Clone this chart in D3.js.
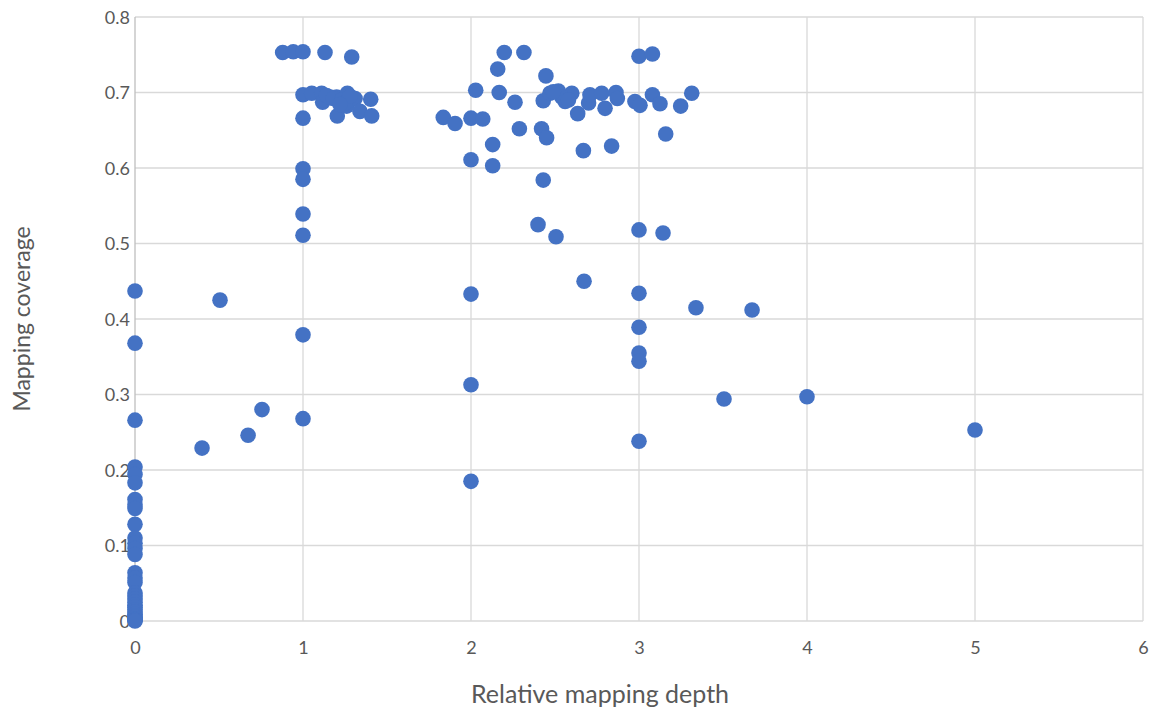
<!DOCTYPE html>
<html>
<head>
<meta charset="utf-8">
<script src="https://cdn.jsdelivr.net/npm/d3@7/dist/d3.min.js"></script>
<style>
  html, body { margin: 0; padding: 0; background: #fff; }
  svg { display: block; }
  text { font-family: Lato, "Open Sans", sans-serif; fill: #595959; }
</style>
</head>
<body>
<svg id="chart" width="1153" height="710"></svg>
<script>
// Relative mapping depth (x) and mapping coverage (y) for each sample
const depth = [
  // depth 0
  0, 0, 0, 0, 0, 0, 0, 0, 0, 0, 0, 0, 0, 0, 0, 0, 0, 0, 0, 0,
  0, 0, 0, 0, 0, 0, 0, 0, 0, 0, 0, 0,
  // low-depth samples
  0.506, 0.399, 0.673, 0.756,
  // around depth 1
  0.879, 0.942, 1.0, 1.131, 1.29,
  1.0, 1.052, 1.111, 1.117, 1.161, 1.2, 1.204, 1.264, 1.26, 1.31, 1.339, 1.403, 1.409,
  1.14, 1.18, 1.23, 1.25, 1.28, 1.22,
  1.0, 1.0, 1.0, 1.0, 1.0, 1.0, 1.0,
  // around depth 2
  1.835, 1.905, 2.0, 2.07, 2.028, 2.0, 2.129, 2.129, 2.159, 2.198, 2.315, 2.168,
  2.262, 2.288, 2.446, 2.43, 2.42, 2.45, 2.43, 2.47, 2.52, 2.56, 2.6, 2.635, 2.669,
  2.70, 2.708, 2.778, 2.798, 2.837, 2.863, 2.871, 2.54, 2.58, 2.49,
  2.399, 2.506, 2.673, 2.0, 2.0, 2.0,
  // around depth 3
  2.976, 3.006, 3.0, 3.08, 3.08, 3.125, 3.159, 3.248, 3.314,
  3.0, 3.143, 3.0, 3.0, 3.0, 3.0, 3.0,
  // higher depth
  3.339, 3.673, 3.506, 4.0, 5.0
];

const coverage = [
  // depth 0
  0.437, 0.368, 0.266, 0.204, 0.194, 0.183, 0.161, 0.154, 0.149, 0.128,
  0.110, 0.103, 0.096, 0.088, 0.064, 0.057, 0.051, 0.037, 0.033, 0.029,
  0.025, 0.021, 0.018, 0.015, 0.012, 0.009, 0.007, 0.005, 0.003, 0.002,
  0.001, 0.0,
  // low-depth samples
  0.425, 0.229, 0.246, 0.280,
  // around depth 1
  0.753, 0.754, 0.754, 0.753, 0.747,
  0.697, 0.699, 0.699, 0.687, 0.694, 0.694, 0.669, 0.699, 0.682, 0.692, 0.675, 0.691, 0.669,
  0.696, 0.692, 0.690, 0.686, 0.695, 0.684,
  0.666, 0.599, 0.585, 0.539, 0.511, 0.379, 0.268,
  // around depth 2
  0.667, 0.659, 0.666, 0.665, 0.703, 0.611, 0.631, 0.603, 0.731, 0.753, 0.753, 0.700,
  0.687, 0.652, 0.722, 0.689, 0.652, 0.640, 0.584, 0.699, 0.702, 0.688, 0.699, 0.672, 0.623,
  0.686, 0.697, 0.699, 0.679, 0.629, 0.700, 0.692, 0.694, 0.690, 0.701,
  0.525, 0.509, 0.450, 0.433, 0.313, 0.185,
  // around depth 3
  0.688, 0.683, 0.748, 0.751, 0.697, 0.685, 0.645, 0.682, 0.699,
  0.518, 0.514, 0.434, 0.389, 0.355, 0.344, 0.238,
  // higher depth
  0.415, 0.412, 0.294, 0.297, 0.253
];

const xTicks = [0, 1, 2, 3, 4, 5, 6];
const yTicks = [0, 0.1, 0.2, 0.3, 0.4, 0.5, 0.6, 0.7, 0.8];
const xTitle = "Relative mapping depth";
const yTitle = "Mapping coverage";

const svg = d3.select("#chart");
const margin = { left: 135, right: 10, top: 17, bottom: 89 };
const W = 1153, H = 710;

const x = d3.scaleLinear().domain([0, 6]).range([margin.left, W - margin.right]);
const y = d3.scaleLinear().domain([0, 0.8]).range([H - margin.bottom, margin.top]);

// gridlines
svg.append("g").selectAll("line").data(yTicks).join("line")
  .attr("x1", x(0)).attr("x2", x(6))
  .attr("y1", d => y(d)).attr("y2", d => y(d))
  .attr("stroke", "#d9d9d9").attr("stroke-width", 1.3);
svg.append("g").selectAll("line").data(xTicks).join("line")
  .attr("y1", y(0)).attr("y2", y(0.8))
  .attr("x1", d => x(d)).attr("x2", d => x(d))
  .attr("stroke", d => d === 0 ? "#bfbfbf" : "#d9d9d9").attr("stroke-width", 1.3);

// axes (labels only, lines come from the grid)
const yAxis = d3.axisLeft(y).tickValues(yTicks).tickSize(0).tickPadding(0)
  .tickFormat(d => d === 0 ? "0" : d3.format(".1f")(d));
const gy = svg.append("g").attr("transform", `translate(${x(0) - 5},0)`).call(yAxis);
gy.select(".domain").remove();
gy.selectAll("text").attr("font-size", 18).attr("fill", "#595959")
  .style("font-family", "Lato, sans-serif").attr("dy", "0.36em");

const xAxis = d3.axisBottom(x).tickValues(xTicks).tickSize(0).tickPadding(0)
  .tickFormat(d3.format("d"));
const gx = svg.append("g").attr("transform", `translate(0,${y(0) + 27})`).call(xAxis);
gx.select(".domain").remove();
gx.selectAll("text").attr("font-size", 18).attr("fill", "#595959")
  .style("font-family", "Lato, sans-serif").attr("dy", "0.36em");

// points
const pts = depth.map((d, i) => ({ d, c: coverage[i] }));
svg.append("g").selectAll("circle").data(pts).join("circle")
  .attr("cx", p => x(p.d)).attr("cy", p => y(p.c))
  .attr("r", 7.8).attr("fill", "#4472C4");

// axis titles
svg.append("text").attr("x", 600).attr("y", 703)
  .attr("text-anchor", "middle").attr("font-size", 25).text(xTitle);
svg.append("text")
  .attr("transform", `translate(30,${(y(0) + y(0.8)) / 2}) rotate(-90)`)
  .attr("text-anchor", "middle").attr("font-size", 23).text(yTitle);
</script>
</body>
</html>
